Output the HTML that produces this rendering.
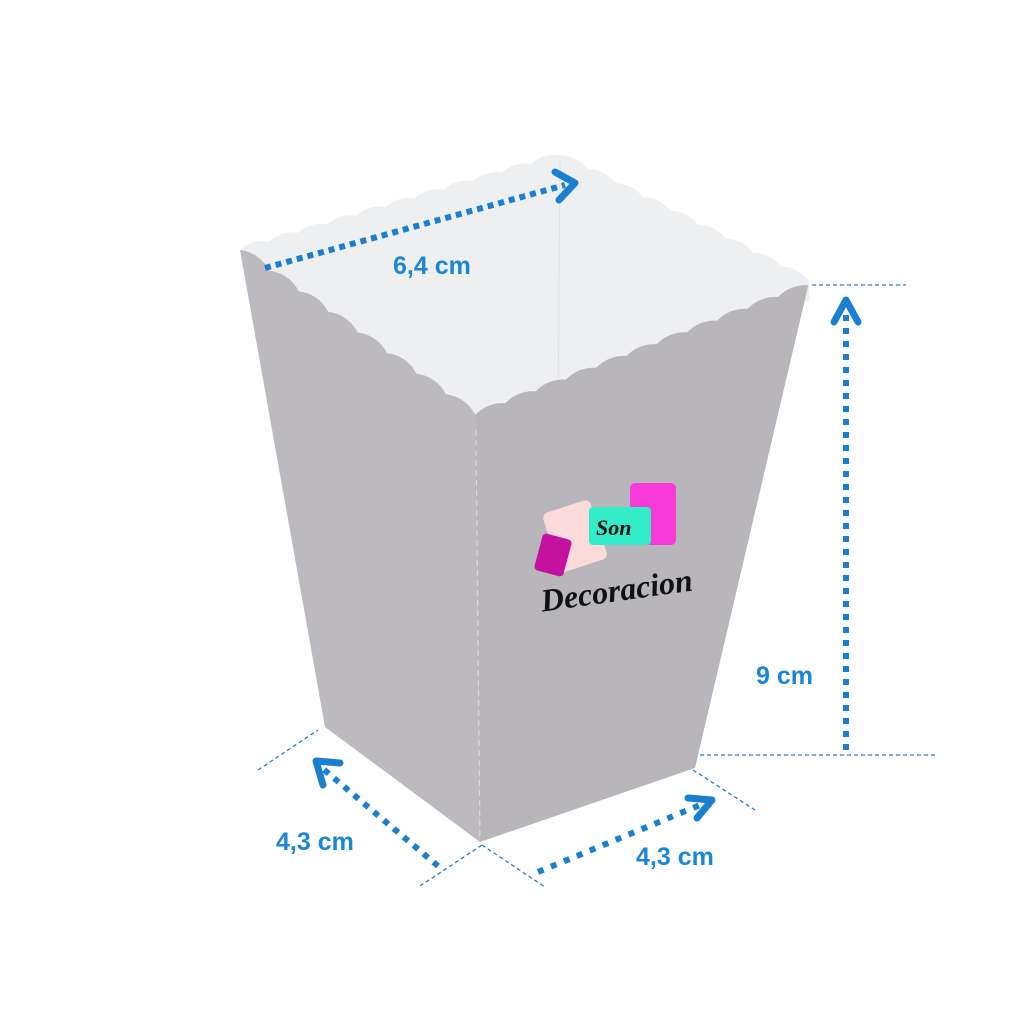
<!DOCTYPE html>
<html><head><meta charset="utf-8"><style>
html,body{margin:0;padding:0;background:#fff;}
svg{display:block;}
</style></head><body>
<svg width="1024" height="1024" viewBox="0 0 1024 1024" xmlns="http://www.w3.org/2000/svg">
<rect width="1024" height="1024" fill="#fff"/>
<path fill="#eeeff1" d="M240,250
 a34 34 0 0 1 29.1,-8.6 a34 34 0 0 1 29.1,-8.6 a34 34 0 0 1 29.1,-8.6 a34 34 0 0 1 29.1,-8.6 a34 34 0 0 1 29.1,-8.6 a34 34 0 0 1 29.1,-8.6 a34 34 0 0 1 29.1,-8.6 a34 34 0 0 1 29.1,-8.6 a34 34 0 0 1 29.1,-8.6 a34 34 0 0 1 29.1,-8.6 a34 34 0 0 1 29.1,-8.6
 a34 34 0 0 1 27.6,13.9 a34 34 0 0 1 27.6,13.9 a34 34 0 0 1 27.6,13.9 a34 34 0 0 1 27.6,13.9 a34 34 0 0 1 27.6,13.9 a34 34 0 0 1 27.6,13.9 a34 34 0 0 1 27.6,13.9 a34 34 0 0 1 27.6,13.9 a34 34 0 0 1 27.6,13.9
 L810,300 L475,420 Z"/>
<line x1="560" y1="160" x2="558" y2="420" stroke="#e2e3e6" stroke-width="1"/>
<path fill="#bcbabe" d="M240,250
 a38 38 0 0 1 29.4,20.6 a38 38 0 0 1 29.4,20.6 a38 38 0 0 1 29.4,20.6 a38 38 0 0 1 29.4,20.6 a38 38 0 0 1 29.4,20.6 a38 38 0 0 1 29.4,20.6 a38 38 0 0 1 29.4,20.6 a38 38 0 0 1 29.4,20.6
 L480,842 L325,727 Z"/>
<path fill="#b8b6ba" d="M475,415
 a38 38 0 0 1 30.3,-11.8 a38 38 0 0 1 30.3,-11.8 a38 38 0 0 1 30.3,-11.8 a38 38 0 0 1 30.3,-11.8 a38 38 0 0 1 30.3,-11.8 a38 38 0 0 1 30.3,-11.8 a38 38 0 0 1 30.3,-11.8 a38 38 0 0 1 30.3,-11.8 a38 38 0 0 1 30.3,-11.8 a38 38 0 0 1 30.3,-11.8 a38 38 0 0 1 30.3,-11.8
 L695,768 L480,842 Z"/>
<line x1="476" y1="430" x2="480" y2="840" stroke="#e6e6e8" stroke-width="1.2" stroke-dasharray="6 4" opacity="0.7"/>
<g>
<rect x="550" y="505" width="50" height="62" rx="6" fill="#fadada" transform="rotate(-18 575 536)"/>
<rect x="630" y="483" width="46" height="62" rx="5" fill="#f83ad8"/>
<rect x="538" y="536" width="30" height="38" rx="4" fill="#c4119e" transform="rotate(15 553 555)"/>
<rect x="589" y="507" width="62" height="38" rx="4" fill="#33ecc8"/>
<text x="596" y="535" font-family="Liberation Serif, serif" font-style="italic" font-weight="bold" font-size="22" fill="#111">Son</text>
<text x="540" y="602" font-family="Liberation Serif, serif" font-style="italic" font-weight="bold" font-size="32" fill="#111" transform="rotate(-8 610 590)">Decoracion</text>
</g>
<g stroke="#2a7cc4" stroke-width="1.3" stroke-dasharray="4 3" fill="none">
<line x1="812" y1="285" x2="906" y2="285"/>
<line x1="700" y1="755" x2="935" y2="755"/>
<line x1="258" y1="770" x2="318" y2="730"/>
<line x1="420" y1="886" x2="482" y2="845"/>
<line x1="482" y1="845" x2="545" y2="887"/>
<line x1="693" y1="770" x2="755" y2="810"/>
</g>
<g stroke="#1a7fce" fill="none">
<line x1="265" y1="268" x2="565" y2="185" stroke-width="6" stroke-dasharray="6 5"/>
<polyline points="555,172 575,183 559,200" stroke-width="7" stroke-linecap="round" stroke-linejoin="round"/>
<line x1="846" y1="750" x2="846" y2="310" stroke-width="6" stroke-dasharray="6 7"/>
<polyline points="834,322 846,300 858,322" stroke-width="7" stroke-linecap="round" stroke-linejoin="round"/>
<line x1="438" y1="866" x2="322" y2="768" stroke-width="6" stroke-dasharray="6 7"/>
<polyline points="340,763 316,761 323,785" stroke-width="7" stroke-linecap="round" stroke-linejoin="round"/>
<line x1="538" y1="872" x2="705" y2="803" stroke-width="6" stroke-dasharray="6 8"/>
<polyline points="688,798 712,800 697,818" stroke-width="7" stroke-linecap="round" stroke-linejoin="round"/>
</g>
<g font-family="Liberation Sans, sans-serif" font-weight="bold" fill="#1a86d8" font-size="25">
<text x="393" y="274">6,4 cm</text>
<text x="756" y="684">9 cm</text>
<text x="276" y="850">4,3 cm</text>
<text x="636" y="865">4,3 cm</text>
</g>
</svg>
</body></html>
